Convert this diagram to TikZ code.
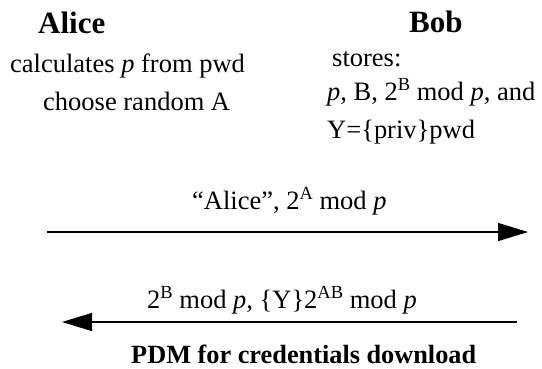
\documentclass[tikz,border=0pt]{standalone}
\usepackage{fontspec}
\setmainfont{Liberation Serif}
\usetikzlibrary{arrows.meta}
\newcommand\supx[1]{\raisebox{0.36em}{\fontsize{18.5}{18.5}\selectfont #1}}
\begin{document}
\begin{tikzpicture}[x=1pt,y=-1pt,
  txt/.style={inner sep=0pt, anchor=base west, font=\fontsize{26.5}{30}\selectfont},
  ttl/.style={inner sep=0pt, anchor=base west, font=\fontsize{31}{34}\selectfont\bfseries},
  captext/.style={inner sep=0pt, anchor=base west, font=\fontsize{26.3}{30}\selectfont\bfseries},
  msg/.style={line width=1.2pt, -{Triangle[length=30pt,width=18pt]}}]
\useasboundingbox (0,0) rectangle (542,368);
\node[ttl] (alice) at (38,33) {Alice};
\node[txt] (calc) at (10,72) {calculates \textit{p} from pwd};
\node[txt] (choose) at (43,110) {choose random A};
\node[ttl] (bob) at (409,32) {Bob};
\node[txt] (stores) at (332,66) {stores:};
\node[txt] (bstore) at (327,100) {\textit{p}, B, 2\supx{B} mod \textit{p}, and};
\node[txt] (ystore) at (327,138) {Y=\{priv\}pwd};
\node[txt] (m1) at (192,209) {“Alice”, 2\supx{A} mod \textit{p}};
\coordinate (a1s) at (47,232);
\coordinate (a1e) at (528,232);
\draw[msg] (a1s) -- (a1e);
\node[txt] (m2) at (147,308) {2\supx{B} mod \textit{p}, \{Y\}2\supx{AB} mod \textit{p}};
\coordinate (a2s) at (517,322);
\coordinate (a2e) at (62,322);
\draw[msg] (a2s) -- (a2e);
\node[captext] (caption) at (131,363) {PDM for credentials download};
\end{tikzpicture}
\end{document}
